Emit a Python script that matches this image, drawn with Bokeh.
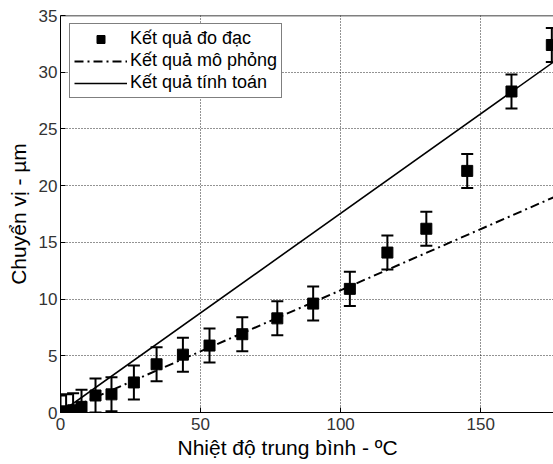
from bokeh.plotting import figure
from bokeh.models import (ColumnDataSource, Range1d, FixedTicker, Whisker, TeeHead,
                          Legend, LegendItem, Span, Title)
from bokeh.embed import file_html
from bokeh.resources import INLINE

# ---- data ----
meas_x = [0, 2, 4.5, 7.5, 12.5, 18.2, 26.2, 34.3, 43.7, 53.2, 64.9, 77.4, 90.2,
          103.3, 116.7, 130.6, 145.2, 161.0, 175.4]
meas_y = [0, 0.1, 0.2, 0.5, 1.5, 1.6, 2.65, 4.25, 5.1, 5.9, 6.9, 8.3, 9.6,
          10.9, 14.1, 16.2, 21.3, 28.3, 32.4]
meas_err = [1.5] * len(meas_x)

sim_x = [0, 180]
sim_y = [0, 19.4]

calc_x = [0, 180]
calc_y = [0, 31.6]

x_ticks = [0, 50, 100, 150]
y_ticks = [0, 5, 10, 15, 20, 25, 30, 35]

legend_labels = ["Kết quả đo đạc", "Kết quả mô phỏng", "Kết quả tính toán"]
x_label = "Nhiệt độ trung bình - ºC"
y_label = "Chuyển vị - µm"

FONT = "Liberation Sans"

p = figure(width=553, height=464, output_backend="svg", toolbar_location=None,
           x_range=Range1d(0, 176), y_range=Range1d(0, 35),
           min_border_left=60, min_border_right=0, min_border_top=15,
           min_border_bottom=52)
p.outline_line_color = None
p.background_fill_color = "white"
p.border_fill_color = "white"

for ax in p.xaxis + p.yaxis:
    ax.major_tick_in = 5
    ax.major_tick_out = 0
    ax.minor_tick_line_color = None
    ax.axis_line_color = "black"
    ax.major_tick_line_color = "black"
    ax.major_label_text_font = FONT
    ax.major_label_text_font_size = "17px"
    ax.major_label_text_color = "#333333"
p.xaxis.ticker = FixedTicker(ticks=x_ticks)
p.yaxis.ticker = FixedTicker(ticks=y_ticks)
p.xaxis.major_label_standoff = 5
p.yaxis.major_label_standoff = 3

p.yaxis.axis_label = y_label
p.yaxis.axis_label_text_font = FONT
p.yaxis.axis_label_text_font_size = "21px"
p.yaxis.axis_label_text_font_style = "normal"
p.yaxis.axis_label_text_color = "black"
p.yaxis.axis_label_standoff = 6

p.add_layout(Title(text=x_label, align="left", offset=117, text_font=FONT,
                   text_font_size="21px", text_font_style="normal",
                   text_color="black", standoff=2), "below")

p.add_layout(Span(location=35, dimension="width", line_color="black", line_width=1.5))

for g in (p.xgrid, p.ygrid):
    g.grid_line_color = "black"
    g.grid_line_dash = "1 2"
    g.grid_line_width = 1
    g.grid_line_alpha = 0.85

src = ColumnDataSource(dict(x=meas_x, y=meas_y,
                            lo=[a - b for a, b in zip(meas_y, meas_err)],
                            hi=[a + b for a, b in zip(meas_y, meas_err)]))

r_calc = p.line(calc_x, calc_y, line_color="black", line_width=1.6)
r_sim = p.line(sim_x, sim_y, line_color="black", line_width=2, line_dash="9 4 2 4")

wh = Whisker(source=src, base="x", lower="lo", upper="hi", line_color="black", line_width=2,
             upper_head=TeeHead(size=12, line_width=2, line_color="black"),
             lower_head=TeeHead(size=12, line_width=2, line_color="black"))
p.add_layout(wh)
r_meas = p.scatter("x", "y", source=src, marker="square", size=11,
                   fill_color="black", line_color="black")

legend = Legend(items=[LegendItem(label=legend_labels[0], renderers=[r_meas]),
                       LegendItem(label=legend_labels[1], renderers=[r_sim]),
                       LegendItem(label=legend_labels[2], renderers=[r_calc])],
                location=(9, 314), label_text_font=FONT, label_text_font_size="18px",
                label_text_color="black", glyph_width=53, glyph_height=20,
                label_height=20, spacing=1, padding=4, label_standoff=3,
                border_line_color="black", border_line_width=1,
                background_fill_color="white", background_fill_alpha=1, margin=0)
p.add_layout(legend)

open("out.html", "w").write(file_html(p, INLINE))
